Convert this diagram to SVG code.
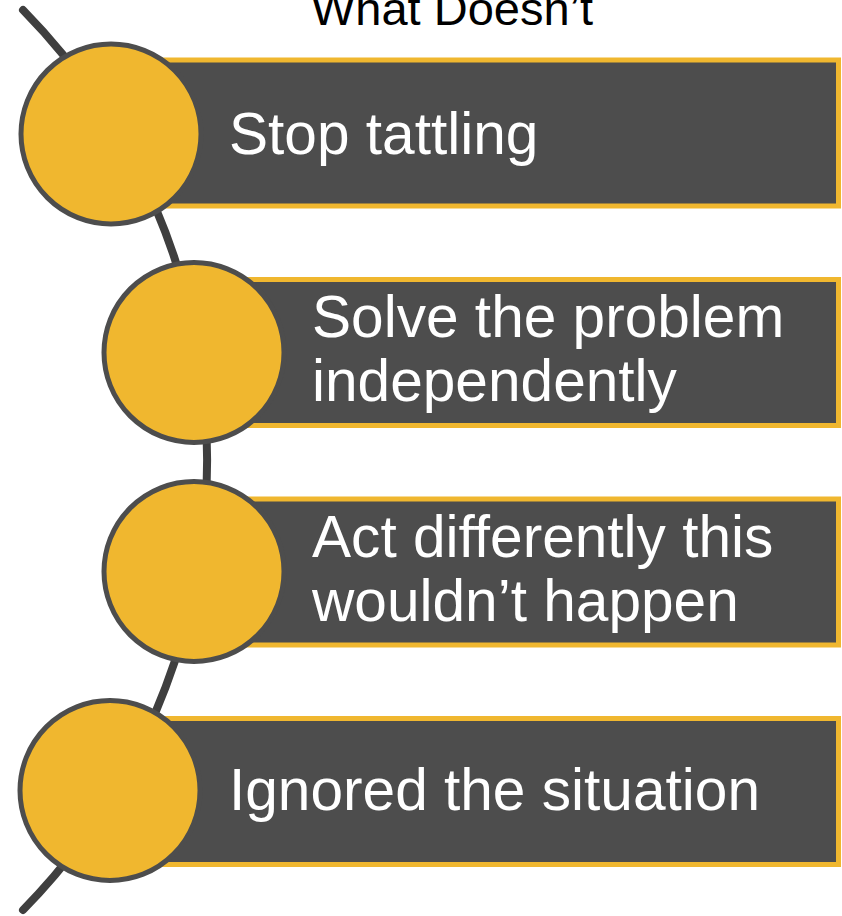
<svg xmlns="http://www.w3.org/2000/svg" width="842" height="916" viewBox="0 0 842 916">
<style>
.box{fill:#4D4D4D;stroke:#F0B72F;stroke-width:5}
.dot{fill:#F0B72F;stroke:#4D4D4D;stroke-width:5}
.lbl{font-family:"Liberation Sans",Arial,sans-serif;font-size:58.6px;fill:#FFFFFF}
.title{font-family:"Liberation Sans",Arial,sans-serif;font-size:47px;fill:#000000}
</style>
<rect width="842" height="916" fill="#FFFFFF"/>
<text class="title" x="452" y="25" text-anchor="middle">What Doesn’t</text>
<g id="connectors">
<path d="M 23 10 A 642 642 0 0 1 23 910" fill="none" stroke="#3F3F3F" stroke-width="8" stroke-linecap="round"/>
</g>
<g id="node1">
<rect class="box" x="111" y="60" width="727.5" height="146"/>
<circle class="dot" cx="111" cy="134" r="90"/>
<text class="lbl" x="229" y="154">Stop tattling</text>
</g>
<g id="node2">
<rect class="box" x="194" y="279.5" width="644.5" height="146"/>
<circle class="dot" cx="194" cy="352.5" r="90"/>
<text class="lbl" x="312" y="337">Solve the problem</text>
<text class="lbl" x="312" y="401">independently</text>
</g>
<g id="node3">
<rect class="box" x="194" y="499" width="644.5" height="146"/>
<circle class="dot" cx="194" cy="571.5" r="90"/>
<text class="lbl" x="312" y="557">Act differently this</text>
<text class="lbl" x="312" y="621">wouldn’t happen</text>
</g>
<g id="node4">
<rect class="box" x="111" y="718.5" width="727.5" height="146"/>
<circle class="dot" cx="110" cy="790.5" r="90"/>
<text class="lbl" x="229" y="810">Ignored the situation</text>
</g>
</svg>
